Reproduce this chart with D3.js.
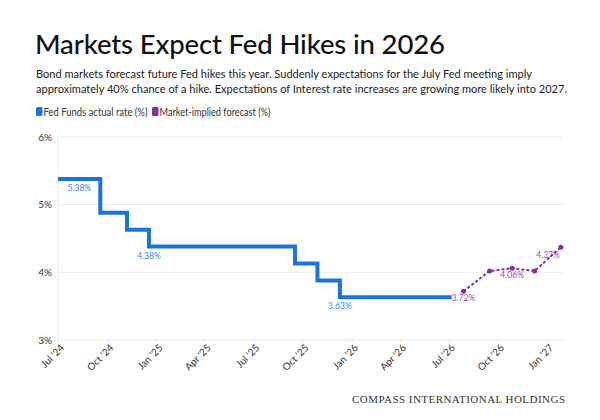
<!DOCTYPE html>
<html>
<head>
<meta charset="utf-8">
<script src="https://cdn.jsdelivr.net/npm/d3@7"></script>
<style>
  html, body { margin: 0; padding: 0; background: #fff; }
  svg { display: block; }
</style>
</head>
<body>
<svg id="chart" width="600" height="420"></svg>
<script>
// ---- Data ----
const actualDates = ["2024-07-01","2024-09-18","2024-11-07","2024-12-18","2025-09-17","2025-10-29","2025-12-10","2026-07-07"];
const actualRates = [5.38, 4.88, 4.63, 4.38, 4.13, 3.88, 3.63, 3.63];

const forecastDates = ["2026-07-29","2026-09-16","2026-10-28","2026-12-09","2027-01-27"];
const forecastRates = [3.72, 4.02, 4.06, 4.02, 4.37];

const actualLabelDates = ["2024-08-10","2024-12-18","2025-12-10"];
const actualLabelValues = [5.38, 4.38, 3.63];

const forecastLabelIdx = [0, 2, 4];

const xTickDates = ["2024-07-01","2024-10-01","2025-01-01","2025-04-01","2025-07-01","2025-10-01","2026-01-01","2026-04-01","2026-07-01","2026-10-01","2027-01-01"];
const yTicks = [3, 4, 5, 6];

const title = "Markets Expect Fed Hikes in 2026";
const subtitleLines = [
  "Bond markets forecast future Fed hikes this year. Suddenly expectations for the July Fed meeting imply",
  "approximately 40% chance of a hike. Expectations of Interest rate increases are growing more likely into 2027."
];
const legendItems = ["Fed Funds actual rate (%)", "Market-implied forecast (%)"];
const footer = "COMPASS INTERNATIONAL HOLDINGS";

// ---- Setup ----
const parse = d3.timeParse("%Y-%m-%d");
const BLUE = "#1a74dc";
const PURPLE = "#8a2aa6";
const FONT = "Lato, 'Open Sans', sans-serif";

const svg = d3.select("#chart");

const x = d3.scaleTime()
  .domain([parse("2024-07-01"), parse("2027-01-31")])
  .range([58, 563]);
const y = d3.scaleLinear().domain([3, 6]).range([340, 137]);

// Title
svg.append("text")
  .attr("x", 35).attr("y", 54)
  .attr("font-family", FONT)
  .attr("font-size", 27.5)
  .attr("font-weight", 500)
  .attr("fill", "#111")
  .attr("textLength", 410)
  .text(title);

// Subtitle
const subWidths = [496, 531];
svg.append("g").selectAll("text").data(subtitleLines).join("text")
  .attr("x", 36).attr("y", (d, i) => 78 + i * 15)
  .attr("font-family", FONT)
  .attr("font-size", 11.3)
  .attr("fill", "#1a1a1a")
  .attr("textLength", (d, i) => subWidths[i])
  .attr("lengthAdjust", "spacingAndGlyphs")
  .text(d => d);

// Legend
const legendColors = [BLUE, PURPLE];
const legendWidths = [104, 111];
const lg = svg.append("g").attr("font-family", FONT).attr("font-size", 11).attr("fill", "#333");
let lx = 36;
legendItems.forEach((t, i) => {
  lg.append("rect").attr("x", lx).attr("y", 107).attr("width", 6.5).attr("height", 9)
    .attr("rx", 1.5).attr("fill", legendColors[i]);
  lg.append("text").attr("x", lx + 7.5).attr("y", 115.5)
    .attr("textLength", legendWidths[i]).attr("lengthAdjust", "spacingAndGlyphs").text(t);
  lx += 7.5 + legendWidths[i] + 4.5;
});

// Gridlines
svg.append("g").selectAll("line").data(yTicks).join("line")
  .attr("x1", 58).attr("x2", 563)
  .attr("y1", d => y(d)).attr("y2", d => y(d))
  .attr("stroke", "#ececec").attr("stroke-width", 1);
svg.append("line").attr("x1", 58).attr("x2", 58).attr("y1", 137).attr("y2", 340)
  .attr("stroke", "#ececec");

// Y axis labels
svg.append("g").selectAll("text").data(yTicks).join("text")
  .attr("x", 52).attr("y", d => y(d) + 3.5)
  .attr("text-anchor", "end")
  .attr("font-family", FONT).attr("font-size", 10).attr("fill", "#333")
  .text(d => d + "%");

// X axis
const xAxis = d3.axisBottom(x)
  .tickValues(xTickDates.map(parse))
  .tickSize(3)
  .tickFormat(d3.timeFormat("%b '%y"));
const xg = svg.append("g").attr("transform", "translate(0,340)").call(xAxis);
xg.select(".domain").remove();
xg.selectAll(".tick line").attr("stroke", "#e6e6e6");
xg.selectAll(".tick text")
  .attr("font-family", FONT).attr("font-size", 10).attr("fill", "#333")
  .attr("text-anchor", "end")
  .attr("transform", "translate(4,6) rotate(-45)")
  .attr("dy", "0.35em").attr("y", 0).attr("x", 0);

// Actual line
const actual = actualDates.map((d, i) => ({ date: parse(d), v: actualRates[i] }));
svg.append("path")
  .datum(actual)
  .attr("fill", "none")
  .attr("stroke", BLUE)
  .attr("stroke-width", 4)
  .attr("d", d3.line().x(d => x(d.date)).y(d => y(d.v)).curve(d3.curveStepAfter));

svg.append("g").selectAll("text").data(actualLabelDates).join("text")
  .attr("x", d => x(parse(d)))
  .attr("y", (d, i) => y(actualLabelValues[i]) + 12)
  .attr("text-anchor", "middle")
  .attr("font-family", FONT).attr("font-size", 8.5).attr("fill", "#3b87d8")
  .text((d, i) => actualLabelValues[i].toFixed(2) + "%");

// Forecast line
const forecast = forecastDates.map((d, i) => ({ date: parse(d), v: forecastRates[i] }));
svg.append("path")
  .datum(forecast)
  .attr("fill", "none")
  .attr("stroke", PURPLE)
  .attr("stroke-width", 2)
  .attr("stroke-dasharray", "3,2")
  .attr("d", d3.line().x(d => x(d.date)).y(d => y(d.v)));
svg.append("g").selectAll("circle").data(forecast).join("circle")
  .attr("cx", d => x(d.date)).attr("cy", d => y(d.v)).attr("r", 2.5)
  .attr("fill", PURPLE);

svg.append("g").selectAll("text").data(forecastLabelIdx).join("text")
  .attr("x", (d, i) => x(forecast[d].date) + (i === 2 ? -1 : 0))
  .attr("y", (d, i) => y(forecast[d].v) + (i === 2 ? 11 : 10))
  .attr("text-anchor", (d, i) => i === 2 ? "end" : "middle")
  .attr("font-family", FONT).attr("font-size", 8.5).attr("fill", "#9a4bb3")
  .text(d => forecast[d].v.toFixed(2) + "%");

// Footer
svg.append("text")
  .attr("x", 352).attr("y", 403)
  .attr("font-family", "'Liberation Serif', 'DejaVu Serif', serif")
  .attr("font-size", 11)
  .attr("textLength", 213)
  .attr("fill", "#333")
  .text(footer);
</script>
</body>
</html>
